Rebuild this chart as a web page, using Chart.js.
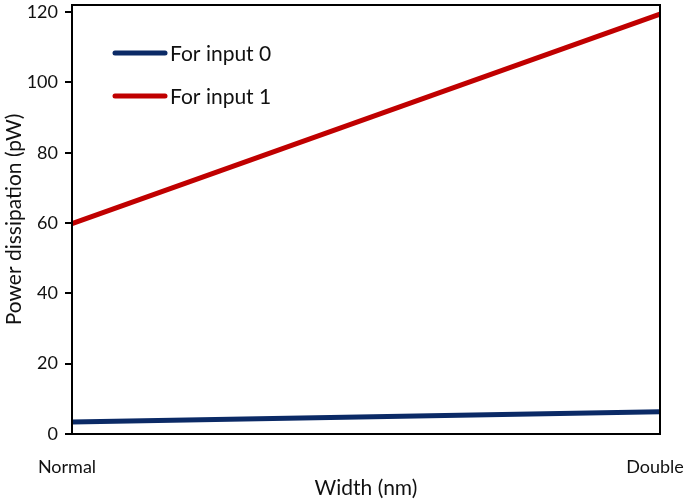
<!DOCTYPE html>
<html>
<head>
<meta charset="utf-8">
<script src="https://cdn.jsdelivr.net/npm/chart.js@4/dist/chart.umd.min.js"></script>
<style>
  html, body { margin: 0; padding: 0; background: #fff; }
  #wrap { width: 685px; height: 503px; }
</style>
</head>
<body>
<div id="wrap"><canvas id="chart" width="685" height="503"></canvas></div>
<script>
// Power dissipation vs. width

const widths = ['Normal', 'Double'];
const input0 = [3.4, 6.3];
const input1 = [59.8, 119.4];
const yTicks = [0, 20, 40, 60, 80, 100, 120];
const seriesNames = ['For input 0', 'For input 1'];
const seriesColors = ['#0b2a66', '#c00000'];

const FONT = 'Lato, "Liberation Sans", sans-serif';

// box around the plot area plus an in-plot legend
const framePlugin = {
  id: 'frame',
  afterDatasetsDraw(chart) {
    const { ctx, chartArea: a } = chart;
    ctx.save();
    ctx.strokeStyle = '#000';
    ctx.lineWidth = 2;
    ctx.strokeRect(a.left, a.top, a.right - a.left, a.bottom - a.top);

    ctx.font = '21px ' + FONT;
    ctx.textBaseline = 'middle';
    ctx.lineCap = 'round';
    chart.data.datasets.forEach((ds, i) => {
      const y = a.top + 48 + i * 43;
      const x = a.left + 43;
      ctx.strokeStyle = ds.borderColor;
      ctx.lineWidth = 5;
      ctx.beginPath();
      ctx.moveTo(x, y);
      ctx.lineTo(x + 50, y);
      ctx.stroke();
      ctx.fillStyle = '#111';
      ctx.fillText(ds.label, x + 55, y + 1);
    });
    ctx.restore();
  }
};

new Chart(document.getElementById('chart'), {
  type: 'line',
  data: {
    labels: widths,
    datasets: [
      { label: seriesNames[0], data: input0, borderColor: seriesColors[0], backgroundColor: seriesColors[0] },
      { label: seriesNames[1], data: input1, borderColor: seriesColors[1], backgroundColor: seriesColors[1] },
    ],
  },
  options: {
    responsive: false,
    animation: false,
    layout: { padding: { top: 5, right: 0, left: 0, bottom: 2 } },
    elements: {
      line: { borderWidth: 5, tension: 0 },
      point: { radius: 0 },
    },
    plugins: {
      legend: { display: false },
      tooltip: { enabled: false },
    },
    scales: {
      x: {
        offset: false,
        afterFit(scale) {
          scale.height = 67;
          scale.paddingRight = 25;
          scale.paddingLeft = 0;
        },
        grid: { display: true, drawOnChartArea: false, drawTicks: false },
        border: { display: true, color: '#000', width: 2 },
        ticks: { color: '#111', font: { family: FONT, size: 18 }, padding: 22, labelOffset: -5, maxRotation: 0 },
        title: { display: true, text: 'Width (nm)', color: '#111', font: { family: FONT, size: 21 }, padding: { top: 2, bottom: 0 } },
      },
      y: {
        min: 0,
        max: 122,
        afterBuildTicks(scale) {
          scale.ticks = yTicks.map(v => ({ value: v }));
        },
        afterFit(scale) {
          scale.width = 72;
          scale.paddingTop = 0;
          scale.paddingBottom = 0;
        },
        ticks: { color: '#111', font: { family: FONT, size: 18 }, padding: 7 },
        grid: { display: true, drawOnChartArea: false, drawTicks: true, tickLength: 7, color: '#000', lineWidth: 2 },
        border: { display: true, color: '#000', width: 2 },
        title: { display: true, text: 'Power dissipation (pW)', color: '#111', font: { family: FONT, size: 21 }, padding: { top: 2, bottom: 4 } },
      },
    },
  },
  plugins: [framePlugin],
});
</script>
</body>
</html>
